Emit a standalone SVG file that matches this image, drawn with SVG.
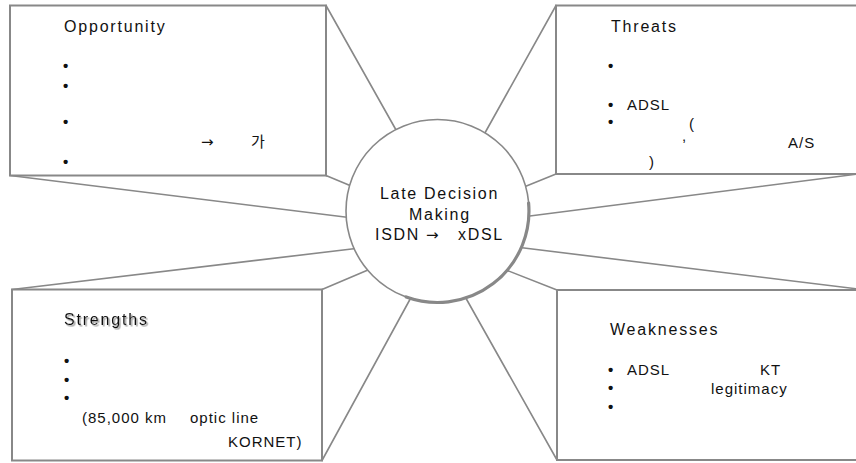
<svg xmlns="http://www.w3.org/2000/svg" width="856" height="463" viewBox="0 0 856 463">
<style>
  .box { fill: #ffffff; stroke: #888888; stroke-width: 2; }
  .conn { stroke: #888888; stroke-width: 1.6; fill: none; stroke-linecap: round; }
  .circ { fill: #ffffff; stroke: #888888; stroke-width: 1.6; }
  .shade { fill: none; stroke: #888888; stroke-width: 3.2; stroke-linecap: round; }
  text { font-family: "Liberation Sans", "Noto Sans CJK KR", "DejaVu Sans", sans-serif; fill: #111111; }
  .title { font-size: 16px; letter-spacing: 1.8px; }
  .item { font-size: 15px; letter-spacing: 1px; }
  .bul { font-size: 15px; font-weight: bold; }
  .arrow { font-family: "DejaVu Sans", sans-serif; font-size: 15px; }
  .center { font-size: 16px; letter-spacing: 1.7px; }
</style>
<defs>
  <filter id="shadow" x="-10%" y="-30%" width="130%" height="170%">
    <feDropShadow dx="1.5" dy="1.5" stdDeviation="0.6" flood-color="#9a9a9a" flood-opacity="1"/>
  </filter>
</defs>
<rect width="856" height="463" fill="#ffffff"/>

<g id="connectors">
  <line class="conn" x1="326" y1="5.5" x2="400" y2="137"/>
  <line class="conn" x1="556" y1="5.5" x2="481" y2="140"/>
  <line class="conn" x1="10" y1="175.5" x2="353" y2="218"/>
  <line class="conn" x1="326" y1="175.5" x2="356" y2="188"/>
  <line class="conn" x1="556" y1="174" x2="519" y2="189"/>
  <line class="conn" x1="858" y1="174" x2="522" y2="217"/>
  <line class="conn" x1="12" y1="289.5" x2="360" y2="248"/>
  <line class="conn" x1="322" y1="289.5" x2="375" y2="267"/>
  <line class="conn" x1="322" y1="460.5" x2="414" y2="292"/>
  <line class="conn" x1="557" y1="460" x2="463" y2="293"/>
  <line class="conn" x1="557" y1="290" x2="501" y2="268"/>
  <line class="conn" x1="858" y1="289" x2="516" y2="247"/>
</g>

<g id="node-opportunity">
  <rect class="box" x="10" y="5.5" width="316" height="170"/>
  <text class="title" x="64" y="32">Opportunity</text>
  <text class="bul" x="63" y="71">•</text>
  <text class="bul" x="63" y="91">•</text>
  <text class="bul" x="63" y="127">•</text>
  <text class="arrow" x="201" y="147">→</text>
  <text class="item" x="251" y="147">가</text>
  <text class="bul" x="63" y="167">•</text>
</g>

<g id="node-threats">
  <rect class="box" x="556" y="5.5" width="310" height="168.5"/>
  <text class="title" x="611" y="32">Threats</text>
  <text class="bul" x="608" y="71">•</text>
  <text class="item" y="110"><tspan class="bul" x="608">•</tspan><tspan x="627">ADSL</tspan></text>
  <text class="item" y="127"><tspan class="bul" x="608">•</tspan><tspan x="689" dy="2">(</tspan></text>
  <text class="item" x="682" y="141">,</text>
  <text class="item" x="788" y="148">A/S</text>
  <text class="item" x="649" y="167">)</text>
</g>

<g id="node-strengths">
  <rect class="box" x="12" y="289.5" width="310" height="171"/>
  <text class="title" x="64" y="325" filter="url(#shadow)">Strengths</text>
  <text class="bul" x="64" y="366">•</text>
  <text class="bul" x="64" y="385">•</text>
  <text class="bul" x="64" y="403">•</text>
  <text class="item" x="82" y="423">(85,000 km</text>
  <text class="item" x="190" y="423">optic line</text>
  <text class="item" x="228" y="446.5">KORNET)</text>
</g>

<g id="node-weaknesses">
  <rect class="box" x="557" y="290" width="310" height="170"/>
  <text class="title" x="610" y="335">Weaknesses</text>
  <text class="item" y="375"><tspan class="bul" x="608">•</tspan><tspan x="627">ADSL</tspan><tspan x="760">KT</tspan></text>
  <text class="item" y="393"><tspan class="bul" x="608">•</tspan><tspan x="711" dy="1">legitimacy</tspan></text>
  <text class="bul" x="608" y="412">•</text>
</g>

<g id="node-center">
  <circle class="circ" cx="437.5" cy="211" r="91.5"/>
  <path class="shade" d="M 528.6 203 A 91.5 91.5 0 0 1 406.2 297"/>
  <text class="center" x="380" y="199">Late Decision</text>
  <text class="center" x="409" y="220">Making</text>
  <text class="center" y="240"><tspan x="375">ISDN</tspan><tspan x="426" class="arrow">→</tspan><tspan x="458">xDSL</tspan></text>
</g>
</svg>
